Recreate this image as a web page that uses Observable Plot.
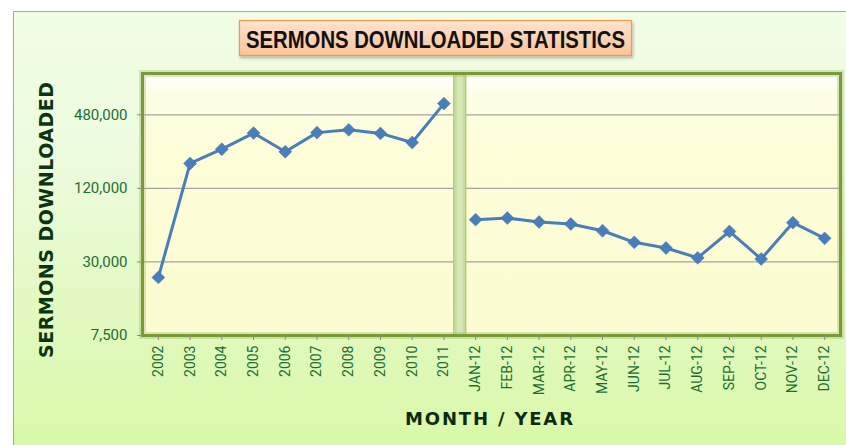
<!DOCTYPE html>
<html><head><meta charset="utf-8">
<script src="https://cdn.jsdelivr.net/npm/d3@7"></script>
<script src="https://cdn.jsdelivr.net/npm/@observablehq/plot@0.6"></script>
<style>
body{margin:0;background:#fff;}
#wrap{position:relative;width:846px;height:445px;overflow:hidden;font-family:Roboto,"Liberation Sans",sans-serif;}
#panel{position:absolute;left:13px;top:11px;width:845px;height:445px;border:1px solid #9bbb59;
  background:linear-gradient(#f1fde6 0%,#ecfbdc 35%,#e0f9bb 75%,#d9f8a6 100%);}
#chart{position:absolute;left:0;top:0;}
#overlay{position:absolute;left:0;top:0;pointer-events:none;}
</style></head>
<body>
<svg width="0" height="0" style="position:absolute">
  <defs>
    <linearGradient id="plotBg" x1="0" y1="0" x2="0" y2="1">
      <stop offset="0" stop-color="#ffffff"/>
      <stop offset="0.08" stop-color="#fefee6"/>
      <stop offset="0.3" stop-color="#fdfdd8"/>
      <stop offset="1" stop-color="#fcfcd2"/>
    </linearGradient>
    <linearGradient id="titleBg" x1="0" y1="0" x2="0" y2="1">
      <stop offset="0" stop-color="#fee3cf"/>
      <stop offset="1" stop-color="#fbc39a"/>
    </linearGradient>
    <filter id="shadow" x="-10%" y="-20%" width="120%" height="160%">
      <feDropShadow dx="1" dy="2" stdDeviation="1.5" flood-color="#000" flood-opacity="0.3"/>
    </filter>
  </defs>
</svg>
<div id="wrap">
  <div id="panel"></div>
  <div id="chart"></div>
  <svg id="overlay" width="846" height="445">
    <rect x="239.5" y="20.5" width="392" height="35" fill="url(#titleBg)" stroke="#f79646" stroke-width="1.2" filter="url(#shadow)"/>
    <text x="246" y="47.5" textLength="379" lengthAdjust="spacingAndGlyphs" font-family="'Liberation Sans',Arial,sans-serif" font-weight="bold" font-size="23" fill="#111">SERMONS DOWNLOADED STATISTICS</text>
    <text transform="translate(53,220) rotate(-90)" text-anchor="middle" textLength="276" font-family="'DejaVu Sans',sans-serif" font-weight="bold" font-size="19" fill="#0b3512">SERMONS DOWNLOADED</text>
    <text x="489" y="425" text-anchor="middle" textLength="168" font-family="'DejaVu Sans',sans-serif" font-weight="bold" font-size="18" fill="#0b2a0e">MONTH / YEAR</text>
  </svg>
</div>
<script>
const years = ["2002","2003","2004","2005","2006","2007","2008","2009","2010","2011"];
const yearValues = [22400, 191800, 251000, 340000, 239000, 343000, 361600, 338000, 284500, 592600];
const months = ["JAN-12","FEB-12","MAR-12","APR-12","MAY-12","JUN-12","JUL-12","AUG-12","SEP-12","OCT-12","NOV-12","DEC-12"];
const monthValues = [66500, 68600, 63700, 61300, 54000, 43400, 39000, 32400, 53300, 31700, 62900, 46800];
const yTicks = [7500, 30000, 120000, 480000];
const yDomain = [7500, 1045000];

const rows = [
  ...years.map((c, i) => ({cat: c, value: yearValues[i], series: "year"})),
  ...months.map((c, i) => ({cat: c, value: monthValues[i], series: "month"}))
];
const cats = [...years, ...months];

const W = 846, H = 445, mL = 142, mR = 6, mT = 73, mB = 110;
const step = (W - mL - mR) / cats.length;
const green = "#1d6d33";
const fmt = d3.format(",");

const chart = Plot.plot({
  width: W, height: H,
  marginLeft: mL, marginRight: mR, marginTop: mT, marginBottom: mB,
  style: {background: "transparent", fontFamily: "Roboto, 'Liberation Sans', sans-serif"},
  x: {type: "point", domain: cats, padding: 0.5, round: false},
  y: {type: "log", domain: yDomain},
  marks: [
    Plot.frame({fill: "url(#plotBg)", stroke: null}),
    Plot.gridY(yTicks, {stroke: "#a3a3a0", strokeOpacity: 1, strokeWidth: 1.2}),
    Plot.ruleX([years[years.length - 1]], {dx: step / 2, stroke: "#c6dd9c", strokeWidth: 13}),
    Plot.ruleX([years[years.length - 1]], {dx: step / 2, stroke: "#d6e8b6", strokeWidth: 6}),
    Plot.ruleX([years[years.length - 1]], {dx: step / 2 - 6, stroke: "#a9c57a", strokeWidth: 1}),
    Plot.ruleX([years[years.length - 1]], {dx: step / 2 + 6, stroke: "#a9c57a", strokeWidth: 1}),
    Plot.line(rows, {x: "cat", y: "value", z: "series", stroke: "#4a7ebb", strokeWidth: 3}),
    Plot.dot(rows, {x: "cat", y: "value", symbol: "diamond2", r: 5.8, fill: "#4a7ebb", stroke: "#3f6fa8", strokeWidth: 0.5}),
    Plot.frame({stroke: "#9ab862", strokeWidth: 7, strokeOpacity: 0.35}),
    Plot.frame({stroke: "#789a3a", strokeWidth: 3}),
    Plot.axisY(yTicks, {tickSize: 5, text: null, stroke: "#8a8a8a", label: null}),
    Plot.text(yTicks, {y: d => d, text: d => fmt(d), frameAnchor: "left", textAnchor: "end", dx: -15, fontSize: 15, fill: green}),
    Plot.axisX({tickRotate: -90, tickSize: 5, tickPadding: 5, fontSize: 14, fill: green, stroke: "#8a8a8a", label: null})
  ]
});
document.getElementById("chart").appendChild(chart);
</script>
</body></html>
